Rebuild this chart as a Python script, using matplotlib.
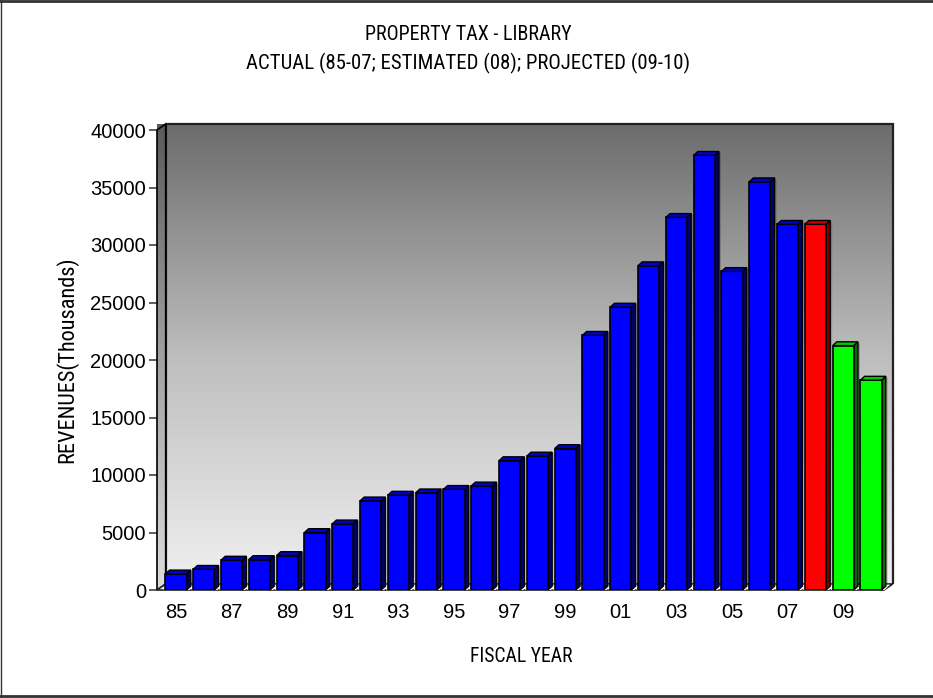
import numpy as np
import matplotlib.pyplot as plt
from matplotlib import font_manager
from matplotlib.patches import Polygon
from matplotlib.colors import LinearSegmentedColormap
from matplotlib.lines import Line2D

# Fiscal years and library property tax revenue (thousands)
years = ['85', '86', '87', '88', '89', '90', '91', '92', '93', '94', '95', '96', '97',
         '98', '99', '00', '01', '02', '03', '04', '05', '06', '07', '08', '09', '10']
revenue = [1400, 1800, 2600, 2650, 3000, 5000, 5750, 7750, 8250, 8450, 8750, 9050, 11250,
           11650, 12300, 22150, 24600, 28200, 32400, 37800, 27700, 35500, 31800, 31800,
           21250, 18250]
status = ['actual'] * 23 + ['estimated'] + ['projected'] * 2
y_ticks = [0, 5000, 10000, 15000, 20000, 25000, 30000, 35000, 40000]

# front / top / side shades for each kind of figure
palette = {
    'actual': ('#0000ff', '#0000c8', '#00006e'),
    'estimated': ('#ff0000', '#c80000', '#7a0000'),
    'projected': ('#00ff00', '#00c800', '#006e00'),
}

# pick a narrow face for the headings if one is installed
entries = font_manager.fontManager.ttflist
names = {f.name for f in entries}
heading_kw = {'family': ['Liberation Sans', 'DejaVu Sans']}
for cand in ('Liberation Sans Narrow', 'Roboto Condensed', 'Open Sans Condensed',
             'Noto Sans Condensed', 'DejaVu Sans Condensed'):
    if cand in names:
        heading_kw = {'family': [cand, 'DejaVu Sans']}
        break
else:
    for f in entries:
        if f.name in ('Noto Sans', 'Open Sans', 'Roboto', 'DejaVu Sans') and 'condensed' in str(f.stretch):
            heading_kw = {'family': [f.name], 'stretch': 'condensed'}
            break

W, H = 933, 698
fig = plt.figure(figsize=(W / 100, H / 100), dpi=100)
fig.patch.set_facecolor('white')

# front frame of the plotting box, in pixels
fx0, fx1, fy_top, fy_bot = 157, 884, 130, 590
ax = fig.add_axes([fx0 / W, (H - fy_bot) / H, (fx1 - fx0) / W, (fy_bot - fy_top) / H])
ax.patch.set_visible(False)

step_px = 27.8
first_px = 176
xl = -(first_px - fx0) / step_px
xr = xl + (fx1 - fx0) / step_px
ymax = 40000
sx = step_px
sy = (fy_bot - fy_top) / ymax


def dx(px):
    return px / sx


def dy(px):
    return px / sy


wall_dx, wall_dy = dx(8.7), dy(6)

grad = np.linspace(0, 1, 256).reshape(-1, 1)
back_cmap = LinearSegmentedColormap.from_list('back', ['#f0f0f0', '#bdbdbd', '#6c6c6c'])
side_cmap = LinearSegmentedColormap.from_list('side', ['#dcdcdc', '#a0a0a0', '#5a5a5a'])

# back wall
ax.imshow(grad, cmap=back_cmap, origin='lower', aspect='auto',
          extent=(xl + wall_dx, xr + wall_dx, wall_dy, ymax + wall_dy),
          clip_on=False, zorder=0, interpolation='bilinear')
ax.add_patch(Polygon([(xl + wall_dx, wall_dy), (xl + wall_dx, ymax + wall_dy),
                      (xr + wall_dx, ymax + wall_dy), (xr + wall_dx, wall_dy)],
                     closed=False, fill=False, edgecolor='#222222', lw=1.6,
                     clip_on=False, zorder=1))

# left wall
left_poly = Polygon([(xl, 0), (xl, ymax), (xl + wall_dx, ymax + wall_dy), (xl + wall_dx, wall_dy)],
                    closed=True, facecolor='none', edgecolor='black', lw=1.2,
                    clip_on=False, zorder=2)
ax.add_patch(left_poly)
side_img = ax.imshow(grad, cmap=side_cmap, origin='lower', aspect='auto',
                     extent=(xl, xl + wall_dx, 0, ymax + wall_dy),
                     clip_on=False, zorder=1, interpolation='bilinear')
side_img.set_clip_path(left_poly)

# floor
ax.add_patch(Polygon([(xl, 0), (xr, 0), (xr + wall_dx, wall_dy), (xl + wall_dx, wall_dy)],
                     closed=True, facecolor='#f4f4f4', edgecolor='#222222', lw=1.2,
                     clip_on=False, zorder=2))

# bars
x = np.arange(len(years))
front_colors = [palette[s][0] for s in status]
bars = ax.bar(x, revenue, width=0.76, color=front_colors, edgecolor='black',
              linewidth=1.2, zorder=6)

bdx, bdy = dx(4.2), dy(3.8)
for rect, s in zip(bars, status):
    _, top_c, side_c = palette[s]
    x0 = rect.get_x()
    w = rect.get_width()
    v = rect.get_height()
    # pale footprint on the floor
    ax.add_patch(Polygon([(x0 - dx(2), 0), (x0 + w + dx(3), 0), (x0 + w + bdx + dx(4), bdy + dy(1.5)),
                          (x0 + bdx, bdy + dy(1.5))], closed=True, facecolor='white',
                         edgecolor='none', zorder=3, clip_on=False))
    # soft shadow behind the bar
    ax.add_patch(Polygon([(x0 + w, bdy), (x0 + w + bdx + dx(2), bdy), (x0 + w + bdx + dx(2), v + bdy - dy(1)),
                          (x0 + w, v)], closed=True, facecolor='#000000', alpha=0.18,
                         edgecolor='none', zorder=4, clip_on=False))
    ax.add_patch(Polygon([(x0 + w, 0), (x0 + w, v), (x0 + w + bdx, v + bdy), (x0 + w + bdx, bdy)],
                         closed=True, facecolor=side_c, edgecolor='black', lw=1.0,
                         zorder=5, clip_on=False))
    ax.add_patch(Polygon([(x0, v), (x0 + w, v), (x0 + w + bdx, v + bdy), (x0 + bdx, v + bdy)],
                         closed=True, facecolor=top_c, edgecolor='black', lw=1.0,
                         zorder=7, clip_on=False))

ax.set_xlim(xl, xr)
ax.set_ylim(0, ymax)

for side in ('top', 'right', 'left', 'bottom'):
    ax.spines[side].set_visible(False)

label_font = ['Liberation Sans', 'DejaVu Sans']

ax.set_yticks(y_ticks)
ax.set_yticklabels([str(t) for t in y_ticks], fontsize=14.5, family=label_font)
ax.set_xticks(x[::2])
ax.set_xticklabels(years[::2], fontsize=14.5, family=label_font)
ax.tick_params(axis='y', length=6, width=1.2, color='#444444', pad=2)
ax.tick_params(axis='x', length=0, pad=9)

# headings, each sized to span its width on the page
headings = [
    (468, 35, 'PROPERTY TAX - LIBRARY', 0, 208),
    (468, 63, 'ACTUAL (85-07; ESTIMATED (08); PROJECTED (09-10)', 0, 444),
    (521, 657, 'FISCAL YEAR', 0, 103),
    (67, 360, 'REVENUES(Thousands)', 90, 210),
]
renderer = fig.canvas.get_renderer()
for px, py, txt, rot, span in headings:
    t = fig.text(px / W, 1 - py / H, txt, ha='center', va='center', rotation=rot,
                 fontsize=14, **heading_kw)
    bb = t.get_window_extent(renderer)
    size = bb.height if rot else bb.width
    t.set_fontsize(min(16.0, 14 * span / size))

# outer frame of the figure
fig.add_artist(Line2D([0, 1], [1 - 1 / H, 1 - 1 / H], transform=fig.transFigure,
                      color='#333333', lw=2))
fig.add_artist(Line2D([0.5 / W, 0.5 / W], [0, 1], transform=fig.transFigure,
                      color='#333333', lw=1))
fig.add_artist(Line2D([0, 1], [2 / H, 2 / H], transform=fig.transFigure,
                      color='#333333', lw=2))

fig.savefig('out.png', dpi=100)
